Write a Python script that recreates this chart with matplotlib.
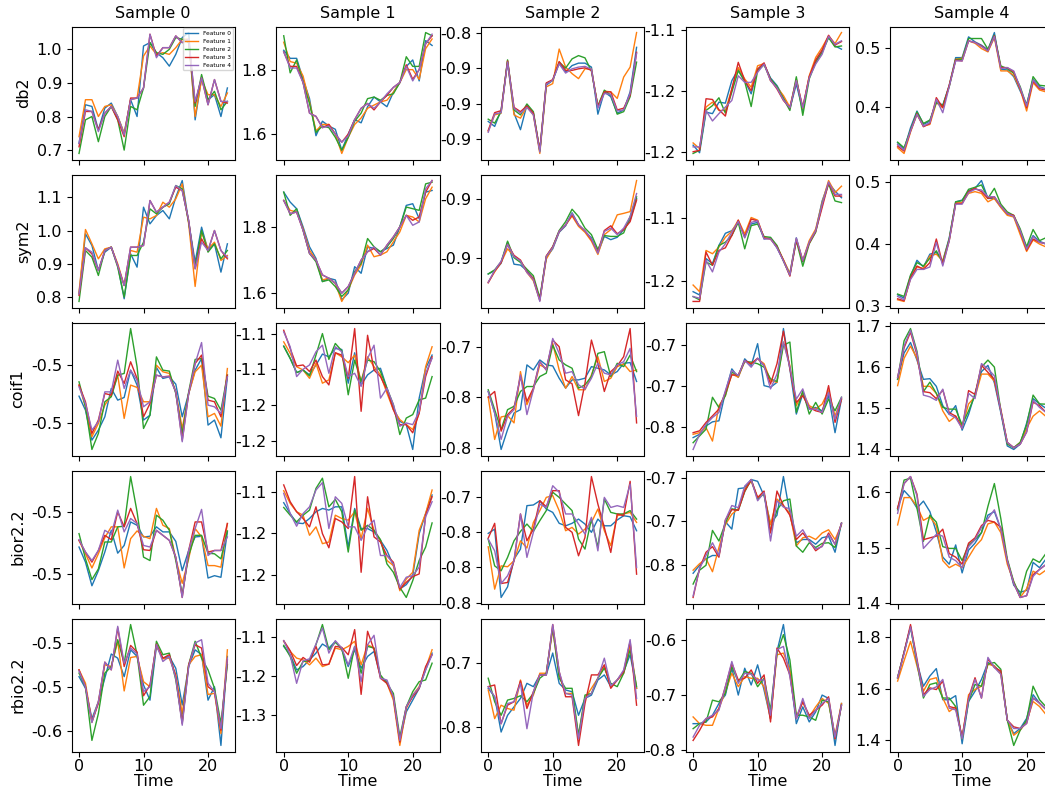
import matplotlib
matplotlib.use("Agg")
import matplotlib.pyplot as plt
import numpy as np

# time axis shared by every panel
time = list(range(24))
features = ["Feature 0", "Feature 1", "Feature 2", "Feature 3", "Feature 4"]
samples = ["Sample 0", "Sample 1", "Sample 2", "Sample 3", "Sample 4"]
wavelets = ["db2", "sym2", "coif1", "bior2.2", "rbio2.2"]

# ---- db2 ----
db2_s0 = [
    [0.72,0.835,0.83,0.76,0.825,0.84,0.80,0.75,0.85,0.80,1.01,1.02,0.99,0.975,0.95,0.985,1.035,1.05,0.79,0.915,0.85,0.865,0.80,0.885],
    [0.74,0.85,0.85,0.80,0.83,0.835,0.80,0.75,0.85,0.855,0.98,1.01,0.985,0.99,0.985,1.005,1.03,1.03,0.80,0.91,0.865,0.865,0.83,0.87],
    [0.69,0.79,0.80,0.725,0.80,0.83,0.79,0.70,0.83,0.82,0.885,1.02,0.99,0.985,1.0,1.035,1.03,1.02,0.83,0.925,0.85,0.875,0.82,0.845],
    [0.71,0.815,0.815,0.76,0.81,0.83,0.79,0.74,0.855,0.855,0.885,1.045,0.98,1.005,1.005,1.04,1.02,1.03,0.84,0.915,0.835,0.91,0.845,0.84],
    [0.72,0.82,0.815,0.755,0.81,0.83,0.80,0.745,0.85,0.855,0.885,1.045,0.975,1.005,1.005,1.04,1.02,1.03,0.845,0.915,0.835,0.91,0.845,0.845],
]
db2_s1 = [
    [1.86,1.835,1.835,1.77,1.71,1.595,1.64,1.625,1.615,1.55,1.60,1.645,1.635,1.685,1.715,1.70,1.685,1.73,1.76,1.81,1.83,1.765,1.89,1.875],
    [1.885,1.825,1.82,1.78,1.70,1.61,1.63,1.63,1.60,1.54,1.59,1.63,1.65,1.68,1.69,1.70,1.705,1.73,1.76,1.80,1.80,1.77,1.865,1.895],
    [1.905,1.79,1.83,1.76,1.695,1.605,1.625,1.62,1.59,1.55,1.59,1.64,1.665,1.71,1.715,1.705,1.72,1.725,1.76,1.84,1.81,1.81,1.915,1.905],
    [1.855,1.81,1.81,1.76,1.665,1.655,1.62,1.63,1.60,1.575,1.60,1.645,1.68,1.695,1.675,1.70,1.72,1.745,1.76,1.815,1.77,1.80,1.88,1.905],
    [1.855,1.805,1.805,1.76,1.665,1.655,1.62,1.625,1.60,1.575,1.595,1.645,1.68,1.695,1.68,1.70,1.725,1.745,1.76,1.81,1.765,1.80,1.88,1.91],
]
db2_s2 = [
    [-0.9125,-0.916,-0.9044,-0.8708,-0.9067,-0.9183,-0.9009,-0.9067,-0.9333,-0.887,-0.8836,-0.8715,-0.8778,-0.8732,-0.8715,-0.8715,-0.8743,-0.9074,-0.8917,-0.8951,-0.9067,-0.9044,-0.8917,-0.8604],
    [-0.9194,-0.9079,-0.9067,-0.8697,-0.9079,-0.9102,-0.9021,-0.9079,-0.935,-0.8882,-0.8859,-0.8616,-0.8743,-0.8789,-0.8824,-0.8755,-0.8755,-0.9021,-0.8912,-0.8917,-0.8963,-0.8813,-0.8743,-0.85],
    [-0.9109,-0.9137,-0.9056,-0.8692,-0.9044,-0.9079,-0.9002,-0.9056,-0.9333,-0.8859,-0.8836,-0.8708,-0.875,-0.8685,-0.8662,-0.8678,-0.8771,-0.9016,-0.8905,-0.894,-0.9074,-0.9056,-0.8951,-0.8708],
    [-0.9188,-0.9063,-0.9049,-0.8701,-0.9026,-0.9056,-0.9016,-0.9067,-0.9326,-0.8854,-0.8831,-0.8704,-0.8766,-0.8766,-0.8755,-0.8748,-0.8766,-0.9021,-0.8917,-0.8917,-0.9044,-0.9032,-0.894,-0.8639],
    [-0.9201,-0.9072,-0.9063,-0.8708,-0.9032,-0.9067,-0.9026,-0.9079,-0.934,-0.8863,-0.8836,-0.872,-0.8785,-0.8755,-0.8743,-0.8738,-0.8757,-0.9032,-0.8928,-0.8935,-0.9051,-0.9044,-0.8928,-0.8646],
]
db2_s3 = [
    [-1.197,-1.2001,-1.1835,-1.1841,-1.1794,-1.1798,-1.1706,-1.1659,-1.1706,-1.176,-1.1659,-1.1638,-1.1695,-1.1726,-1.1774,-1.1821,-1.172,-1.1828,-1.1692,-1.1625,-1.1584,-1.1527,-1.1564,-1.1577],
    [-1.1961,-1.1984,-1.1814,-1.1794,-1.1828,-1.1828,-1.174,-1.1652,-1.1699,-1.1733,-1.1645,-1.1636,-1.1706,-1.1733,-1.1767,-1.1814,-1.1699,-1.1821,-1.1686,-1.1611,-1.157,-1.1523,-1.1554,-1.1509],
    [-1.2004,-1.1991,-1.1828,-1.1808,-1.1776,-1.1839,-1.1753,-1.1665,-1.171,-1.1812,-1.1665,-1.1641,-1.1699,-1.173,-1.178,-1.1828,-1.169,-1.1848,-1.1699,-1.1631,-1.1591,-1.153,-1.1568,-1.1564],
    [-1.1997,-1.1991,-1.178,-1.1783,-1.1825,-1.1851,-1.174,-1.1631,-1.1706,-1.1747,-1.1659,-1.1633,-1.1703,-1.174,-1.1787,-1.1817,-1.1706,-1.1814,-1.169,-1.1622,-1.1581,-1.152,-1.156,-1.1546],
    [-1.1977,-1.1977,-1.1828,-1.1871,-1.1841,-1.1814,-1.1787,-1.1686,-1.1713,-1.1713,-1.1672,-1.1638,-1.1706,-1.1736,-1.1785,-1.1817,-1.1706,-1.1817,-1.1695,-1.1638,-1.1598,-1.1524,-1.1557,-1.1543],
]
db2_s4 = [
    [0.339,0.3277,0.3644,0.3926,0.37,0.3757,0.4096,0.4023,0.4362,0.483,0.483,0.5181,0.5096,0.504,0.496,0.5254,0.4633,0.4621,0.4508,0.4266,0.404,0.4463,0.4339,0.43],
    [0.3305,0.3209,0.3571,0.387,0.3672,0.37,0.4068,0.3983,0.435,0.4802,0.4819,0.5113,0.5073,0.4983,0.4927,0.517,0.4605,0.4605,0.4531,0.4294,0.3927,0.4407,0.4282,0.425],
    [0.340,0.3305,0.3604,0.391,0.3717,0.3774,0.4068,0.4023,0.4339,0.4802,0.4802,0.5153,0.5153,0.5153,0.4972,0.5209,0.4689,0.4644,0.4565,0.4339,0.4011,0.4508,0.4362,0.435],
    [0.3333,0.3249,0.3588,0.3881,0.3661,0.3717,0.4153,0.3983,0.4362,0.4791,0.4774,0.5113,0.5085,0.5028,0.4944,0.5198,0.4661,0.4661,0.4588,0.4305,0.3983,0.4435,0.4305,0.428],
    [0.3362,0.3266,0.3588,0.387,0.3672,0.3729,0.4124,0.3898,0.4339,0.4774,0.4774,0.5113,0.5085,0.5017,0.4944,0.5187,0.4644,0.4661,0.4605,0.4322,0.4011,0.4452,0.4322,0.43],
]

# ---- sym2 ----
sym2_s0 = [
    [0.81,0.99,0.955,0.88,0.935,0.95,0.895,0.795,0.93,0.89,1.07,1.02,1.045,1.06,1.035,1.10,1.15,1.025,0.905,1.01,0.94,0.96,0.875,0.96],
    [0.815,1.003,0.96,0.915,0.945,0.95,0.90,0.835,0.94,0.935,1.04,1.035,1.045,1.085,1.07,1.095,1.14,1.02,0.832,0.995,0.945,0.965,0.91,0.925],
    [0.787,0.94,0.92,0.865,0.94,0.95,0.89,0.80,0.925,0.925,0.965,1.065,1.05,1.07,1.08,1.135,1.125,1.025,0.89,1.0,0.935,0.96,0.915,0.94],
    [0.805,0.948,0.93,0.88,0.94,0.95,0.895,0.835,0.95,0.95,0.955,1.09,1.055,1.07,1.085,1.13,1.12,1.03,0.885,0.975,0.94,1.0,0.94,0.915],
    [0.81,0.948,0.935,0.88,0.94,0.95,0.895,0.835,0.95,0.95,0.955,1.09,1.055,1.07,1.085,1.135,1.12,1.03,0.885,0.965,0.94,1.0,0.94,0.92],
]
sym2_s1 = [
    [1.905,1.875,1.855,1.80,1.74,1.705,1.635,1.645,1.64,1.58,1.60,1.68,1.66,1.74,1.735,1.725,1.735,1.745,1.80,1.865,1.87,1.825,1.905,1.91],
    [1.88,1.85,1.845,1.795,1.73,1.70,1.64,1.645,1.63,1.575,1.61,1.655,1.685,1.745,1.71,1.715,1.725,1.755,1.785,1.835,1.83,1.815,1.885,1.92],
    [1.905,1.835,1.855,1.79,1.72,1.695,1.635,1.64,1.62,1.59,1.61,1.665,1.69,1.765,1.74,1.725,1.74,1.765,1.80,1.86,1.855,1.85,1.93,1.935],
    [1.88,1.84,1.845,1.79,1.72,1.70,1.655,1.645,1.63,1.60,1.62,1.66,1.70,1.725,1.735,1.715,1.745,1.77,1.80,1.835,1.82,1.83,1.905,1.94],
    [1.88,1.84,1.845,1.79,1.72,1.70,1.655,1.645,1.63,1.60,1.62,1.66,1.70,1.725,1.74,1.715,1.745,1.77,1.80,1.835,1.805,1.815,1.915,1.94],
]
sym2_s2 = [
    [-0.9053,-0.9042,-0.9017,-0.8946,-0.902,-0.9023,-0.9042,-0.907,-0.9137,-0.8998,-0.8968,-0.8912,-0.889,-0.8846,-0.8887,-0.8909,-0.8931,-0.8981,-0.8926,-0.8937,-0.8929,-0.8903,-0.887,-0.8798],
    [-0.9081,-0.9046,-0.9014,-0.8968,-0.8992,-0.9009,-0.9048,-0.9076,-0.9142,-0.9003,-0.8964,-0.8909,-0.8887,-0.8857,-0.8892,-0.8912,-0.8942,-0.8987,-0.892,-0.8903,-0.8853,-0.8848,-0.8842,-0.8737],
    [-0.9053,-0.9039,-0.9012,-0.8942,-0.8998,-0.9014,-0.9037,-0.9059,-0.9134,-0.8994,-0.8961,-0.8906,-0.8876,-0.8834,-0.8859,-0.8898,-0.892,-0.897,-0.8923,-0.8926,-0.8926,-0.8914,-0.8859,-0.8792],
    [-0.9083,-0.9043,-0.9014,-0.8953,-0.899,-0.9006,-0.9046,-0.9068,-0.9142,-0.8992,-0.8961,-0.8909,-0.8887,-0.8853,-0.8887,-0.8907,-0.8937,-0.8979,-0.8906,-0.889,-0.8917,-0.8903,-0.8876,-0.8803],
    [-0.9081,-0.9041,-0.901,-0.8953,-0.8994,-0.9009,-0.9048,-0.9072,-0.9146,-0.8994,-0.8964,-0.8909,-0.8887,-0.8848,-0.8887,-0.8907,-0.8934,-0.8983,-0.8909,-0.8898,-0.892,-0.8898,-0.8859,-0.8781],
]
sym2_s3 = [
    [-1.2087,-1.2113,-1.1823,-1.1863,-1.1718,-1.1621,-1.16,-1.1534,-1.1639,-1.1547,-1.1534,-1.1666,-1.1658,-1.1737,-1.1837,-1.1942,-1.1658,-1.185,-1.1692,-1.16,-1.1363,-1.1219,-1.1284,-1.1337],
    [-1.2034,-1.2087,-1.1758,-1.1784,-1.1731,-1.1653,-1.1605,-1.1516,-1.1626,-1.1495,-1.1516,-1.1658,-1.1666,-1.1726,-1.1831,-1.1942,-1.1666,-1.1837,-1.1679,-1.1587,-1.1376,-1.12,-1.1297,-1.1245],
    [-1.2126,-1.2152,-1.185,-1.1876,-1.1718,-1.1692,-1.1639,-1.1534,-1.1745,-1.156,-1.1547,-1.1647,-1.1653,-1.1718,-1.1842,-1.1955,-1.1679,-1.1884,-1.1705,-1.1613,-1.139,-1.1226,-1.1363,-1.1376],
    [-1.2165,-1.2165,-1.1771,-1.1876,-1.1758,-1.1737,-1.1639,-1.1516,-1.1653,-1.1508,-1.1521,-1.1658,-1.1666,-1.1731,-1.1837,-1.1963,-1.1674,-1.1842,-1.17,-1.1605,-1.1416,-1.1219,-1.1324,-1.1324],
    [-1.2126,-1.2139,-1.1837,-1.1929,-1.1771,-1.1705,-1.1613,-1.1526,-1.1658,-1.1534,-1.1521,-1.1666,-1.1666,-1.1737,-1.1842,-1.1955,-1.1658,-1.1837,-1.1692,-1.16,-1.139,-1.1211,-1.1311,-1.1311],
]
sym2_s4 = [
    [0.3175,0.312,0.3477,0.3734,0.3625,0.3833,0.386,0.3723,0.4096,0.4682,0.471,0.4863,0.4901,0.5027,0.4737,0.4737,0.46,0.4479,0.4447,0.4189,0.3931,0.4134,0.4041,0.40],
    [0.3093,0.3066,0.3438,0.3625,0.3603,0.3805,0.3833,0.3723,0.4063,0.4666,0.4666,0.4819,0.4847,0.4819,0.4682,0.4737,0.4589,0.4463,0.4436,0.4151,0.3877,0.4063,0.3997,0.395],
    [0.3186,0.3148,0.3493,0.3696,0.3641,0.3767,0.3888,0.3696,0.4079,0.4682,0.4699,0.4885,0.4918,0.4956,0.4737,0.4901,0.4644,0.4518,0.4463,0.4244,0.3953,0.4233,0.4052,0.41],
    [0.3109,0.3077,0.3449,0.3641,0.3586,0.3696,0.4079,0.3668,0.4052,0.4655,0.4655,0.4847,0.4901,0.4847,0.4737,0.4764,0.4611,0.449,0.4463,0.4205,0.3898,0.4079,0.4025,0.40],
    [0.3148,0.3093,0.3422,0.3586,0.3586,0.3625,0.4025,0.3641,0.4052,0.4644,0.4644,0.483,0.4885,0.4874,0.4764,0.4764,0.4611,0.449,0.4447,0.4216,0.3915,0.4118,0.4025,0.40],
]

# ---- coif1 ----
coif1_s0 = [
    [-0.4766,-0.4886,-0.5143,-0.5057,-0.4943,-0.47,-0.48,-0.4777,-0.4543,-0.4671,-0.4971,-0.4929,-0.452,-0.4614,-0.46,-0.4663,-0.4943,-0.4743,-0.4543,-0.4443,-0.5014,-0.4971,-0.5123,-0.46],
    [-0.4671,-0.4857,-0.5114,-0.5,-0.4843,-0.4757,-0.4586,-0.4957,-0.4671,-0.4691,-0.4814,-0.4814,-0.45,-0.4557,-0.4571,-0.4729,-0.5043,-0.4743,-0.4557,-0.45,-0.4943,-0.4914,-0.5023,-0.4529],
    [-0.4643,-0.4857,-0.5223,-0.5086,-0.4814,-0.4771,-0.4586,-0.4571,-0.4186,-0.4514,-0.5043,-0.4929,-0.4429,-0.4543,-0.4551,-0.4743,-0.5086,-0.4729,-0.4451,-0.4443,-0.4766,-0.4786,-0.4886,-0.4586],
    [-0.4671,-0.4814,-0.5086,-0.4971,-0.4743,-0.4757,-0.4551,-0.4657,-0.4471,-0.4614,-0.4943,-0.4829,-0.4586,-0.46,-0.4594,-0.4729,-0.5143,-0.4743,-0.4486,-0.4414,-0.48,-0.4814,-0.4943,-0.4586],
    [-0.4686,-0.4829,-0.5057,-0.4986,-0.4729,-0.4729,-0.4457,-0.47,-0.4543,-0.4629,-0.4857,-0.4814,-0.4586,-0.46,-0.46,-0.4729,-0.5157,-0.4743,-0.4486,-0.4306,-0.4843,-0.4857,-0.4914,-0.46],
]
coif1_s1 = [
    [-1.1338,-1.1423,-1.1522,-1.1504,-1.1538,-1.1469,-1.1393,-1.1412,-1.1354,-1.1361,-1.1596,-1.1384,-1.1608,-1.1538,-1.1504,-1.1492,-1.1631,-1.1769,-1.1862,-1.1885,-1.2058,-1.17,-1.1492,-1.14],
    [-1.1308,-1.1388,-1.1481,-1.1504,-1.1562,-1.1458,-1.1596,-1.1573,-1.1384,-1.1412,-1.1453,-1.14,-1.1585,-1.1412,-1.1481,-1.1538,-1.1665,-1.1781,-1.185,-1.1885,-1.1919,-1.1804,-1.1481,-1.1342],
    [-1.1338,-1.1423,-1.1522,-1.1504,-1.1545,-1.14,-1.125,-1.143,-1.1319,-1.137,-1.1677,-1.1435,-1.1585,-1.1435,-1.1446,-1.1515,-1.1631,-1.1746,-1.1954,-1.1839,-1.1815,-1.1712,-1.17,-1.155],
    [-1.1227,-1.1354,-1.1476,-1.1469,-1.1515,-1.1435,-1.155,-1.1608,-1.1384,-1.14,-1.1562,-1.1215,-1.1792,-1.1262,-1.1504,-1.155,-1.1642,-1.1781,-1.1885,-1.1885,-1.1942,-1.1804,-1.155,-1.1412],
    [-1.1238,-1.1342,-1.155,-1.1499,-1.1469,-1.1377,-1.1331,-1.1527,-1.1342,-1.1377,-1.155,-1.1527,-1.1619,-1.1423,-1.1331,-1.17,-1.1631,-1.1746,-1.1896,-1.1873,-1.1885,-1.1792,-1.1527,-1.1423],
]
coif1_s2 = [
    [-0.7443,-0.7656,-0.8017,-0.782,-0.7656,-0.7623,-0.718,-0.723,-0.7131,-0.718,-0.719,-0.7312,-0.741,-0.7328,-0.7328,-0.7312,-0.7197,-0.7213,-0.723,-0.7279,-0.7246,-0.7164,-0.7157,-0.7344],
    [-0.7499,-0.7918,-0.7695,-0.7682,-0.7754,-0.7246,-0.7574,-0.7426,-0.718,-0.7213,-0.6967,-0.723,-0.741,-0.7295,-0.7426,-0.7426,-0.7279,-0.7098,-0.7344,-0.7312,-0.7197,-0.7171,-0.7246,-0.723],
    [-0.7426,-0.7623,-0.782,-0.7623,-0.759,-0.7443,-0.7394,-0.7394,-0.7295,-0.7262,-0.6984,-0.7131,-0.718,-0.7213,-0.741,-0.7377,-0.7295,-0.7066,-0.7049,-0.7295,-0.7164,-0.7197,-0.7082,-0.7246],
    [-0.7499,-0.7443,-0.7836,-0.7672,-0.7607,-0.7295,-0.7541,-0.741,-0.7148,-0.723,-0.6934,-0.70,-0.7328,-0.7367,-0.7682,-0.7361,-0.6934,-0.7164,-0.7443,-0.7246,-0.719,-0.7098,-0.682,-0.7754],
    [-0.7443,-0.7656,-0.7918,-0.7689,-0.7623,-0.7279,-0.7672,-0.7426,-0.7148,-0.723,-0.6918,-0.7066,-0.7262,-0.7246,-0.7377,-0.742,-0.7312,-0.7164,-0.7262,-0.7279,-0.718,-0.7148,-0.7016,-0.7689],
]
coif1_s3 = [
    [-0.7654,-0.7638,-0.7597,-0.7577,-0.7572,-0.7433,-0.7318,-0.7359,-0.7269,-0.7302,-0.7195,-0.74,-0.7408,-0.7384,-0.7121,-0.7318,-0.7539,-0.7441,-0.7515,-0.7507,-0.7523,-0.7449,-0.763,-0.7466],
    [-0.7638,-0.763,-0.7605,-0.7671,-0.7498,-0.7449,-0.7343,-0.7359,-0.7282,-0.7293,-0.7269,-0.7293,-0.7375,-0.7384,-0.7187,-0.7302,-0.7498,-0.7433,-0.7498,-0.7515,-0.749,-0.7425,-0.7548,-0.7466],
    [-0.7679,-0.7646,-0.7613,-0.7457,-0.7507,-0.7449,-0.7334,-0.7351,-0.7282,-0.7285,-0.7293,-0.731,-0.7367,-0.738,-0.7203,-0.7187,-0.7531,-0.7425,-0.7539,-0.7482,-0.7539,-0.7466,-0.7523,-0.7457],
    [-0.763,-0.7621,-0.758,-0.7548,-0.7515,-0.7433,-0.7348,-0.7348,-0.7277,-0.7293,-0.7266,-0.7302,-0.7392,-0.7293,-0.7134,-0.7318,-0.7482,-0.7449,-0.7507,-0.7523,-0.7531,-0.74,-0.758,-0.7466],
    [-0.7712,-0.7638,-0.7589,-0.7556,-0.7531,-0.7425,-0.7326,-0.7351,-0.7277,-0.731,-0.7266,-0.7302,-0.7416,-0.7343,-0.7187,-0.731,-0.7466,-0.7416,-0.7515,-0.7515,-0.7531,-0.7433,-0.7564,-0.7457],
]
coif1_s4 = [
    [1.5704,1.6344,1.66,1.6173,1.5704,1.5721,1.5534,1.5065,1.4852,1.5065,1.4468,1.4852,1.5363,1.5892,1.6045,1.5619,1.4894,1.4085,1.3999,1.4127,1.4639,1.5235,1.5107,1.50],
    [1.5551,1.6216,1.6514,1.6216,1.5534,1.5534,1.5363,1.4937,1.4681,1.4809,1.4553,1.5107,1.5278,1.5832,1.5832,1.5662,1.498,1.417,1.4042,1.417,1.4511,1.4809,1.4937,1.48],
    [1.5704,1.6642,1.694,1.6386,1.5406,1.5636,1.5363,1.5022,1.498,1.498,1.4596,1.4937,1.5321,1.6003,1.6173,1.6003,1.4937,1.4127,1.4042,1.417,1.4596,1.5321,1.5107,1.51],
    [1.5747,1.6471,1.6855,1.6301,1.5406,1.538,1.5235,1.5448,1.4894,1.4809,1.4511,1.5431,1.5338,1.6045,1.5875,1.5704,1.4937,1.417,1.4042,1.4127,1.4425,1.515,1.5065,1.49],
    [1.5747,1.6514,1.6898,1.6344,1.5321,1.5278,1.5193,1.5466,1.4852,1.4766,1.4511,1.5363,1.5235,1.6088,1.596,1.5789,1.4937,1.417,1.4042,1.4127,1.4425,1.5193,1.5022,1.49],
]

# ---- bior2.2 ----
bior_s0 = [
    [-0.4781,-0.4904,-0.5096,-0.4973,-0.4822,-0.4645,-0.4831,-0.4768,-0.4577,-0.4604,-0.4699,-0.4694,-0.4617,-0.4658,-0.4658,-0.4735,-0.4973,-0.4809,-0.4699,-0.4694,-0.5033,-0.5014,-0.5027,-0.4658],
    [-0.4727,-0.4836,-0.4951,-0.4836,-0.4705,-0.4617,-0.4617,-0.4951,-0.4713,-0.465,-0.4694,-0.4713,-0.4467,-0.4604,-0.4631,-0.4877,-0.5076,-0.4877,-0.4631,-0.4699,-0.4932,-0.4932,-0.4945,-0.459],
    [-0.4672,-0.4877,-0.5046,-0.4959,-0.474,-0.474,-0.4617,-0.4612,-0.4208,-0.4495,-0.4863,-0.4891,-0.4522,-0.4563,-0.4645,-0.4891,-0.5164,-0.485,-0.4686,-0.4686,-0.4831,-0.4836,-0.4877,-0.465],
    [-0.4727,-0.4822,-0.4904,-0.4809,-0.4686,-0.4721,-0.4495,-0.4617,-0.4467,-0.459,-0.4803,-0.4809,-0.4645,-0.4686,-0.4727,-0.4863,-0.5191,-0.4809,-0.4577,-0.4577,-0.4822,-0.4809,-0.4809,-0.459],
    [-0.4721,-0.4822,-0.4891,-0.4809,-0.4645,-0.4678,-0.4481,-0.4658,-0.4549,-0.459,-0.4768,-0.4781,-0.4645,-0.4686,-0.4727,-0.4863,-0.5191,-0.4809,-0.4631,-0.4475,-0.485,-0.4809,-0.4809,-0.4699],
]
bior_s1 = [
    [-1.1563,-1.1629,-1.1686,-1.169,-1.1659,-1.1618,-1.1598,-1.1608,-1.1588,-1.1588,-1.1833,-1.1598,-1.172,-1.172,-1.1741,-1.1792,-1.1853,-1.1945,-1.2088,-1.2061,-1.2006,-1.1751,-1.1629,-1.1516],
    [-1.149,-1.1567,-1.1618,-1.1639,-1.1761,-1.171,-1.1812,-1.1802,-1.1639,-1.1659,-1.1669,-1.1618,-1.1782,-1.1598,-1.1731,-1.1792,-1.1914,-1.1945,-1.2098,-1.2027,-1.1986,-1.1731,-1.1629,-1.1486],
    [-1.1592,-1.1639,-1.168,-1.1639,-1.1608,-1.1476,-1.1414,-1.1588,-1.1543,-1.1618,-1.1863,-1.1608,-1.1731,-1.17,-1.1731,-1.1788,-1.1935,-1.1986,-1.2078,-1.2139,-1.2037,-1.1914,-1.1833,-1.1686],
    [-1.1455,-1.1557,-1.1618,-1.1659,-1.171,-1.1588,-1.1751,-1.1837,-1.1659,-1.168,-1.172,-1.1404,-1.1986,-1.1527,-1.1771,-1.1802,-1.1884,-1.1925,-1.2088,-1.2047,-1.2012,-1.1996,-1.1639,-1.1527],
    [-1.1506,-1.1629,-1.1706,-1.1629,-1.1588,-1.1486,-1.1441,-1.172,-1.1527,-1.1567,-1.171,-1.171,-1.1792,-1.171,-1.1669,-1.1884,-1.1884,-1.1935,-1.2078,-1.2016,-1.2006,-1.1955,-1.1649,-1.1557],
]
bior_s2 = [
    [-0.7608,-0.7584,-0.7971,-0.7911,-0.7754,-0.7697,-0.7451,-0.7447,-0.7423,-0.747,-0.7489,-0.7551,-0.7565,-0.7551,-0.7527,-0.7555,-0.7602,-0.7527,-0.7565,-0.7565,-0.7532,-0.7508,-0.7514,-0.7593],
    [-0.7684,-0.7924,-0.7792,-0.7797,-0.7763,-0.765,-0.7691,-0.7546,-0.7479,-0.7404,-0.7394,-0.7479,-0.7593,-0.7574,-0.7612,-0.7584,-0.7546,-0.747,-0.7593,-0.7678,-0.7508,-0.7498,-0.7489,-0.7546],
    [-0.764,-0.7792,-0.782,-0.7744,-0.765,-0.7597,-0.7555,-0.7597,-0.7536,-0.7479,-0.7375,-0.7404,-0.7442,-0.7479,-0.764,-0.7697,-0.7527,-0.7688,-0.7413,-0.7489,-0.7498,-0.7498,-0.7479,-0.7527],
    [-0.7635,-0.7551,-0.7892,-0.7886,-0.7763,-0.7498,-0.765,-0.7584,-0.7423,-0.7457,-0.7366,-0.7366,-0.7574,-0.7602,-0.7735,-0.7631,-0.7286,-0.7442,-0.7574,-0.7716,-0.7498,-0.7508,-0.7313,-0.7839],
    [-0.764,-0.7707,-0.7892,-0.7848,-0.7763,-0.7498,-0.7744,-0.7602,-0.7442,-0.7461,-0.7338,-0.7375,-0.7498,-0.7498,-0.7555,-0.7612,-0.7517,-0.7707,-0.7404,-0.7461,-0.7451,-0.7461,-0.7328,-0.7801],
]
bior_s3 = [
    [-0.764,-0.7603,-0.7573,-0.7558,-0.7558,-0.7402,-0.7436,-0.7249,-0.7245,-0.7207,-0.7215,-0.7282,-0.7409,-0.7372,-0.7193,-0.7364,-0.7499,-0.7484,-0.7484,-0.7506,-0.7476,-0.7469,-0.7543,-0.7409],
    [-0.7626,-0.7596,-0.7573,-0.7633,-0.7521,-0.7416,-0.7367,-0.7342,-0.7252,-0.7215,-0.729,-0.7272,-0.7416,-0.7297,-0.7327,-0.7364,-0.7514,-0.7476,-0.7469,-0.7484,-0.7454,-0.7439,-0.7484,-0.7416],
    [-0.769,-0.7626,-0.7603,-0.7442,-0.7491,-0.7409,-0.7342,-0.7349,-0.7263,-0.7207,-0.7297,-0.7272,-0.7446,-0.7349,-0.7305,-0.7297,-0.7514,-0.7543,-0.7499,-0.7521,-0.7502,-0.7499,-0.7521,-0.7409],
    [-0.7752,-0.7618,-0.7543,-0.7517,-0.7566,-0.7394,-0.7346,-0.7349,-0.726,-0.7207,-0.729,-0.726,-0.7454,-0.726,-0.7327,-0.7372,-0.7484,-0.7454,-0.7491,-0.7536,-0.7514,-0.7454,-0.7506,-0.7409],
    [-0.7745,-0.7618,-0.7558,-0.7499,-0.7558,-0.7394,-0.7327,-0.7337,-0.7237,-0.7207,-0.7305,-0.7267,-0.7491,-0.7305,-0.7334,-0.7342,-0.7469,-0.7439,-0.7491,-0.7528,-0.7517,-0.7461,-0.7506,-0.7409],
]
bior_s4 = [
    [1.5716,1.6032,1.5905,1.5716,1.5842,1.5653,1.5287,1.4833,1.4706,1.5053,1.4549,1.4959,1.5085,1.5274,1.559,1.5653,1.5337,1.477,1.4328,1.4202,1.4233,1.4738,1.4643,1.48],
    [1.5413,1.5905,1.5905,1.5748,1.5495,1.5558,1.5401,1.477,1.4643,1.4706,1.4643,1.4833,1.5022,1.5148,1.5432,1.5464,1.5274,1.4706,1.4391,1.4107,1.4265,1.458,1.4517,1.46],
    [1.5685,1.6221,1.6252,1.5716,1.5117,1.559,1.5464,1.5022,1.499,1.499,1.477,1.5053,1.5148,1.5274,1.5748,1.6158,1.5527,1.4801,1.4391,1.4139,1.458,1.4801,1.4738,1.49],
    [1.5716,1.6158,1.6284,1.5968,1.5148,1.518,1.5211,1.5337,1.4896,1.4833,1.4706,1.5085,1.518,1.5401,1.5495,1.5464,1.5369,1.477,1.4359,1.4107,1.4139,1.4517,1.4612,1.47],
    [1.5621,1.6158,1.6284,1.5937,1.499,1.5117,1.5243,1.5211,1.4833,1.477,1.4643,1.5022,1.5148,1.5369,1.5527,1.5685,1.5337,1.477,1.4359,1.4107,1.4139,1.4486,1.4612,1.47],
]

# ---- rbio2.2 ----
rbio_s0 = [
    [-0.5353,-0.5406,-0.5544,-0.5467,-0.536,-0.525,-0.5269,-0.5353,-0.5231,-0.5261,-0.5391,-0.546,-0.5215,-0.5269,-0.5261,-0.5315,-0.5482,-0.5307,-0.5231,-0.5253,-0.546,-0.5399,-0.5666,-0.5261],
    [-0.5322,-0.5383,-0.5559,-0.5467,-0.5299,-0.5307,-0.5192,-0.5418,-0.5266,-0.5261,-0.5376,-0.5399,-0.5211,-0.5272,-0.5269,-0.5345,-0.5521,-0.5299,-0.5261,-0.5253,-0.5434,-0.5429,-0.5612,-0.5231],
    [-0.5337,-0.5399,-0.5643,-0.5521,-0.5337,-0.5307,-0.5185,-0.5292,-0.5116,-0.5253,-0.5483,-0.5444,-0.5192,-0.5253,-0.5246,-0.5368,-0.5559,-0.5299,-0.5192,-0.5269,-0.5322,-0.5406,-0.5566,-0.5299],
    [-0.5322,-0.5399,-0.5559,-0.5475,-0.5287,-0.5322,-0.5131,-0.5307,-0.5211,-0.5241,-0.544,-0.5391,-0.5205,-0.5269,-0.5253,-0.5353,-0.5566,-0.5299,-0.5208,-0.5223,-0.5399,-0.5421,-0.5597,-0.5276],
    [-0.5327,-0.5399,-0.5562,-0.5467,-0.5287,-0.5322,-0.5124,-0.5292,-0.5223,-0.525,-0.5421,-0.5399,-0.5208,-0.5284,-0.5261,-0.536,-0.5574,-0.5307,-0.52,-0.5185,-0.5383,-0.5421,-0.5589,-0.5269],
]
rbio_s1 = [
    [-1.1233,-1.1448,-1.1836,-1.175,-1.1578,-1.1405,-1.1172,-1.1276,-1.1103,-1.1319,-1.175,-1.1319,-1.1793,-1.1491,-1.1362,-1.2009,-1.2138,-1.2569,-1.3646,-1.2914,-1.2612,-1.231,-1.1836,-1.1405],
    [-1.1103,-1.1362,-1.1534,-1.1578,-1.1707,-1.1534,-1.175,-1.169,-1.1276,-1.1319,-1.1233,-1.1103,-1.1707,-1.119,-1.1276,-1.2009,-1.2181,-1.2612,-1.3776,-1.2828,-1.2483,-1.2267,-1.1793,-1.1319],
    [-1.1207,-1.1491,-1.1922,-1.1621,-1.1603,-1.119,-1.0672,-1.1319,-1.1129,-1.1276,-1.2052,-1.1233,-1.1922,-1.1233,-1.1276,-1.1966,-1.2181,-1.244,-1.356,-1.2784,-1.2396,-1.2138,-1.2095,-1.1664],
    [-1.1086,-1.1345,-1.1724,-1.1517,-1.1638,-1.1233,-1.1707,-1.169,-1.1233,-1.1259,-1.1448,-1.0802,-1.2465,-1.0845,-1.1319,-1.2052,-1.2181,-1.2526,-1.369,-1.2784,-1.2526,-1.231,-1.175,-1.1448],
    [-1.1086,-1.1448,-1.2181,-1.1603,-1.1552,-1.1172,-1.0759,-1.1405,-1.1086,-1.1276,-1.1707,-1.1233,-1.2138,-1.119,-1.0948,-1.2052,-1.2095,-1.2526,-1.3646,-1.2784,-1.2483,-1.2293,-1.1836,-1.1448],
]
rbio_s2 = [
    [-0.7197,-0.7263,-0.7539,-0.7408,-0.7342,-0.7276,-0.7158,-0.7184,-0.7092,-0.7092,-0.6921,-0.7158,-0.721,-0.7224,-0.7408,-0.7276,-0.725,-0.7132,-0.7092,-0.7184,-0.7132,-0.7066,-0.6934,-0.7197],
    [-0.721,-0.7434,-0.7329,-0.7355,-0.7368,-0.7132,-0.7329,-0.725,-0.7079,-0.7079,-0.6737,-0.7092,-0.7237,-0.7237,-0.7566,-0.7276,-0.7197,-0.7118,-0.7026,-0.7184,-0.7132,-0.7079,-0.6855,-0.7197],
    [-0.7118,-0.7302,-0.7408,-0.7289,-0.7276,-0.7255,-0.7302,-0.7237,-0.7118,-0.7079,-0.6724,-0.7118,-0.7197,-0.7197,-0.7566,-0.725,-0.7237,-0.7118,-0.7039,-0.7158,-0.7184,-0.7079,-0.6895,-0.7184],
    [-0.7184,-0.7171,-0.7474,-0.7329,-0.7302,-0.7139,-0.7355,-0.7224,-0.7092,-0.7092,-0.6698,-0.7066,-0.7263,-0.7263,-0.7644,-0.7316,-0.7092,-0.7092,-0.7013,-0.7197,-0.7132,-0.7066,-0.6829,-0.7329],
    [-0.7184,-0.7263,-0.7474,-0.7316,-0.7302,-0.7158,-0.7513,-0.7224,-0.7092,-0.7092,-0.6698,-0.7066,-0.7237,-0.725,-0.7592,-0.7276,-0.7237,-0.7118,-0.6961,-0.7176,-0.7132,-0.7053,-0.6816,-0.7276],
]
rbio_s3 = [
    [-0.7513,-0.7513,-0.7482,-0.736,-0.7147,-0.6994,-0.6506,-0.6994,-0.6506,-0.6811,-0.6445,-0.6903,-0.7421,-0.6201,-0.5713,-0.6567,-0.7513,-0.7208,-0.7482,-0.7299,-0.6994,-0.7055,-0.7909,-0.7147],
    [-0.7391,-0.7513,-0.7543,-0.7543,-0.7238,-0.6933,-0.6598,-0.6842,-0.6659,-0.6689,-0.6689,-0.6842,-0.7421,-0.6262,-0.6232,-0.6537,-0.7391,-0.7116,-0.7391,-0.7208,-0.7055,-0.7147,-0.7726,-0.7147],
    [-0.7604,-0.7513,-0.7482,-0.7086,-0.7116,-0.6964,-0.6476,-0.675,-0.6567,-0.6598,-0.6842,-0.6689,-0.7269,-0.6232,-0.5896,-0.6354,-0.736,-0.736,-0.7391,-0.7452,-0.7086,-0.7116,-0.7787,-0.7177],
    [-0.7818,-0.7635,-0.7421,-0.7391,-0.7238,-0.6842,-0.6415,-0.672,-0.6689,-0.6537,-0.6781,-0.6628,-0.7482,-0.614,-0.6323,-0.6628,-0.7421,-0.7116,-0.736,-0.7269,-0.7177,-0.7025,-0.7787,-0.7177],
    [-0.7757,-0.7543,-0.7421,-0.736,-0.7269,-0.6842,-0.6384,-0.6781,-0.6598,-0.6616,-0.672,-0.672,-0.736,-0.6171,-0.611,-0.6659,-0.7421,-0.7055,-0.7421,-0.7269,-0.7147,-0.7055,-0.7757,-0.7177],
]
rbio_s4 = [
    [1.6426,1.741,1.8393,1.7016,1.6098,1.6492,1.678,1.5574,1.5574,1.5731,1.3869,1.5508,1.5902,1.6361,1.7016,1.6885,1.6623,1.4787,1.4262,1.4459,1.4852,1.577,1.5443,1.52],
    [1.6295,1.7082,1.783,1.6885,1.5902,1.6361,1.6426,1.5639,1.5115,1.5311,1.4066,1.577,1.5967,1.6098,1.6951,1.6885,1.6557,1.4787,1.4197,1.4393,1.4721,1.5508,1.5311,1.50],
    [1.6426,1.741,1.8393,1.7016,1.5639,1.6164,1.6229,1.5639,1.5639,1.5311,1.4066,1.5508,1.6164,1.6098,1.6951,1.7016,1.6754,1.4787,1.3803,1.4393,1.4787,1.6098,1.5574,1.53],
    [1.6426,1.741,1.8485,1.7148,1.577,1.6033,1.5967,1.6295,1.5311,1.5246,1.4131,1.5639,1.6426,1.5639,1.7148,1.682,1.6689,1.4787,1.4525,1.4459,1.4656,1.5639,1.5443,1.52],
    [1.6426,1.7344,1.8393,1.7082,1.5705,1.5967,1.6072,1.6361,1.5246,1.518,1.4066,1.5574,1.6361,1.5639,1.7213,1.682,1.6557,1.4787,1.4459,1.4459,1.4656,1.5639,1.5443,1.52],
]

# y tick positions and the labels as printed (one decimal)
yticks_db2 = [[0.7, 0.8, 0.9, 1.0], [1.6, 1.8], [-0.85, -0.875, -0.9, -0.925], [-1.15, -1.175, -1.2], [0.4, 0.5]]
ylabels_db2 = [["0.7", "0.8", "0.9", "1.0"], ["1.6", "1.8"], ["-0.8", "-0.9", "-0.9", "-0.9"], ["-1.1", "-1.2", "-1.2"], ["0.4", "0.5"]]
yticks_sym2 = [[0.8, 0.9, 1.0, 1.1], [1.6, 1.8], [-0.88, -0.9], [-1.15, -1.2], [0.3, 0.4, 0.5]]
ylabels_sym2 = [["0.8", "0.9", "1.0", "1.1"], ["1.6", "1.8"], ["-0.9", "-0.9"], ["-1.1", "-1.2"], ["0.3", "0.4", "0.5"]]
yticks_coif1 = [[-0.45, -0.5], [-1.125, -1.15, -1.175, -1.2], [-0.7, -0.75, -0.8], [-0.72, -0.74, -0.76], [1.4, 1.5, 1.6, 1.7]]
ylabels_coif1 = [["-0.5", "-0.5"], ["-1.1", "-1.1", "-1.2", "-1.2"], ["-0.7", "-0.8", "-0.8"], ["-0.7", "-0.7", "-0.8"], ["1.4", "1.5", "1.6", "1.7"]]
yticks_bior = [[-0.45, -0.5], [-1.15, -1.175, -1.2], [-0.74, -0.76, -0.78, -0.8], [-0.72, -0.74, -0.76], [1.4, 1.5, 1.6]]
ylabels_bior = [["-0.5", "-0.5"], ["-1.1", "-1.2", "-1.2"], ["-0.7", "-0.8", "-0.8", "-0.8"], ["-0.7", "-0.7", "-0.8"], ["1.4", "1.5", "1.6"]]
yticks_rbio = [[-0.52, -0.54, -0.56], [-1.1, -1.2, -1.3], [-0.7, -0.75], [-0.6, -0.7, -0.8], [1.4, 1.6, 1.8]]
ylabels_rbio = [["-0.5", "-0.5", "-0.6"], ["-1.1", "-1.2", "-1.3"], ["-0.7", "-0.8"], ["-0.6", "-0.7", "-0.8"], ["1.4", "1.6", "1.8"]]

grid = [
    [db2_s0, db2_s1, db2_s2, db2_s3, db2_s4],
    [sym2_s0, sym2_s1, sym2_s2, sym2_s3, sym2_s4],
    [coif1_s0, coif1_s1, coif1_s2, coif1_s3, coif1_s4],
    [bior_s0, bior_s1, bior_s2, bior_s3, bior_s4],
    [rbio_s0, rbio_s1, rbio_s2, rbio_s3, rbio_s4],
]
tick_grid = [yticks_db2, yticks_sym2, yticks_coif1, yticks_bior, yticks_rbio]
label_grid = [ylabels_db2, ylabels_sym2, ylabels_coif1, ylabels_bior, ylabels_rbio]

plt.rcParams["font.size"] = 11

W, H = 1045, 789
fig = plt.figure(figsize=(W / 100, H / 100), dpi=100)

# panel placement in pixels (last column runs off the right edge)
lefts = [71.6, 276.3, 480.8, 685.7, 890.2]
tops = [26.5, 174.5, 322.5, 470.5, 618.5]
pw, ph = 163.2, 133

axes = np.empty((5, 5), dtype=object)
for r in range(5):
    for c in range(5):
        ax = fig.add_axes([lefts[c] / W, 1 - (tops[r] + ph) / H, pw / W, ph / H])
        axes[r, c] = ax
        for k in range(5):
            ax.plot(time, grid[r][c][k], lw=1.0, label=features[k])
        ax.set_yticks(tick_grid[r][c], label_grid[r][c])
        ax.set_xticks([0, 10, 20])
        ax.tick_params(labelsize=11.5)
        ax.tick_params(axis="x", pad=2)
        if r == 0:
            ax.set_title(samples[c], fontsize=11.5)
        if r < 4:
            ax.tick_params(labelbottom=False)
        else:
            ax.set_xlabel("Time", fontsize=11.5, labelpad=0)
        if c == 0:
            ax.set_ylabel(wavelets[r], fontsize=11.5)

axes[0, 0].legend(loc="upper right", fontsize=4.2, borderaxespad=0.3, handlelength=2.2)
fig.align_ylabels(axes[:, 0])

fig.savefig("out.png", dpi=100)
